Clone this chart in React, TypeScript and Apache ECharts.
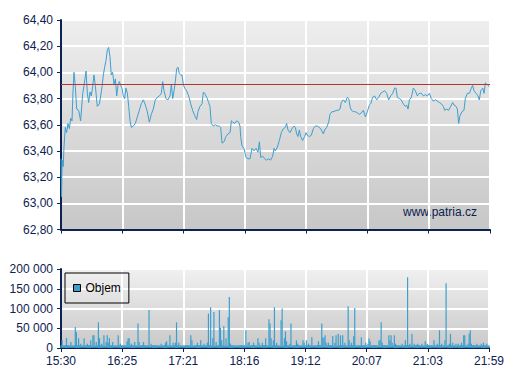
import React, { useEffect, useRef } from "react";
import * as echarts from "echarts";

// Minutes after 15:30 and price
const pricePoints: [number, number][] = [
  [0, 63.34], [0.5, 63.05], [1, 63.33], [2, 63.28], [2.7, 63.43], [3.9, 63.58], [5.1, 63.54], [6.3, 63.61], [7.6, 63.57], [8.8, 63.65],
  [10.0, 63.63], [10.9, 63.86], [11.8, 64.0], [13.0, 63.89], [14.2, 63.72], [16.0, 63.71], [17.8, 63.63], [19.7, 63.84], [20.9, 63.9], [22.7, 64.01],
  [23.9, 63.84], [25.1, 63.77], [26.3, 63.85], [27.5, 63.82], [28.7, 63.89], [29.9, 63.98], [31.1, 63.9], [32.9, 63.74], [34.8, 63.76], [36.0, 63.82],
  [37.2, 63.89], [38.4, 63.98], [39.6, 64.04], [40.8, 64.09], [42.0, 64.17], [43.2, 64.19], [44.4, 64.12], [45.6, 63.98], [46.8, 64.0], [48.1, 63.91],
  [49.3, 63.95], [50.5, 63.82], [51.7, 63.9], [52.9, 63.93], [54.1, 63.9], [55.3, 63.88], [56.5, 63.82], [57.7, 63.8], [58.9, 63.88], [60.2, 63.84],
  [61.4, 63.74], [62.6, 63.63], [63.8, 63.58], [65.6, 63.59], [67.4, 63.61], [69.2, 63.66], [71.0, 63.71], [72.8, 63.76], [74.7, 63.79], [76.5, 63.75],
  [78.3, 63.7], [80.1, 63.62], [81.9, 63.68], [83.7, 63.72], [85.5, 63.79], [87.4, 63.81], [89.2, 63.82], [91.0, 63.84], [92.2, 63.93], [93.4, 63.86],
  [95.2, 63.8], [97.0, 63.79], [98.8, 63.82], [100.1, 63.91], [101.3, 63.8], [102.5, 63.86], [103.7, 63.93], [104.9, 64.03], [106.1, 64.04], [107.3, 63.99],
  [108.5, 63.98], [109.7, 63.98], [110.9, 63.91], [112.1, 63.88], [113.9, 63.86], [115.8, 63.82], [117.6, 63.76], [119.4, 63.71], [121.2, 63.67], [123.0, 63.64],
  [124.2, 63.7], [126.0, 63.74], [127.9, 63.76], [129.1, 63.85], [130.3, 63.84], [132.1, 63.81], [133.9, 63.77], [135.1, 63.74], [136.3, 63.61], [138.1, 63.59],
  [140.0, 63.6], [141.8, 63.59], [143.6, 63.59], [144.8, 63.58], [146.0, 63.46], [147.8, 63.47], [149.6, 63.51], [151.4, 63.53], [153.3, 63.54], [154.5, 63.63],
  [155.7, 63.62], [157.5, 63.61], [159.3, 63.63], [161.1, 63.62], [162.3, 63.59], [162.9, 63.51], [164.1, 63.44], [165.9, 63.42], [167.8, 63.35], [169.6, 63.34],
  [171.4, 63.34], [173.2, 63.42], [175.0, 63.4], [176.8, 63.42], [178.6, 63.39], [179.9, 63.47], [181.1, 63.35], [182.9, 63.36], [184.7, 63.34], [186.5, 63.33],
  [188.3, 63.34], [190.1, 63.33], [191.9, 63.36], [193.2, 63.42], [194.4, 63.4], [196.2, 63.43], [198.0, 63.48], [199.8, 63.54], [201.6, 63.57], [203.4, 63.58],
  [204.6, 63.61], [205.8, 63.56], [207.7, 63.54], [209.5, 63.57], [211.3, 63.59], [212.5, 63.58], [213.7, 63.53], [214.9, 63.51], [216.1, 63.56], [217.3, 63.51],
  [219.1, 63.48], [221.0, 63.51], [222.2, 63.54], [223.4, 63.52], [225.2, 63.51], [227.0, 63.52], [228.8, 63.57], [230.6, 63.59], [232.4, 63.59], [234.3, 63.58],
  [236.1, 63.56], [237.9, 63.53], [239.1, 63.56], [240.9, 63.58], [242.7, 63.62], [243.9, 63.68], [245.7, 63.7], [247.6, 63.7], [249.4, 63.71], [251.2, 63.71],
  [253.0, 63.72], [254.2, 63.77], [256.0, 63.79], [257.8, 63.77], [259.6, 63.81], [260.9, 63.8], [262.1, 63.74], [263.3, 63.71], [265.1, 63.7], [266.9, 63.7],
  [268.7, 63.69], [270.5, 63.68], [272.3, 63.69], [274.2, 63.71], [276.0, 63.66], [277.8, 63.7], [279.6, 63.75], [280.8, 63.76], [282.6, 63.81], [284.4, 63.82],
  [286.2, 63.79], [288.1, 63.81], [289.9, 63.84], [291.7, 63.85], [293.5, 63.86], [295.3, 63.84], [297.1, 63.79], [298.9, 63.82], [300.8, 63.84], [302.6, 63.88],
  [303.8, 63.88], [305.0, 63.81], [306.8, 63.8], [308.6, 63.79], [310.4, 63.76], [312.2, 63.74], [313.5, 63.75], [314.7, 63.72], [315.9, 63.79], [317.7, 63.81],
  [319.5, 63.88], [321.3, 63.86], [323.1, 63.82], [324.9, 63.84], [326.8, 63.84], [328.6, 63.82], [330.4, 63.83], [332.2, 63.82], [334.0, 63.84], [335.8, 63.8],
  [337.6, 63.78], [339.5, 63.79], [341.3, 63.78], [343.1, 63.77], [344.9, 63.76], [346.7, 63.74], [347.9, 63.71], [349.7, 63.72], [351.5, 63.71], [353.3, 63.74],
  [355.2, 63.77], [356.4, 63.75], [358.2, 63.74], [359.4, 63.72], [360.6, 63.61], [361.8, 63.67], [363.6, 63.7], [365.4, 63.71], [366.6, 63.8], [368.5, 63.84],
  [370.3, 63.84], [372.1, 63.88], [373.3, 63.9], [374.5, 63.86], [376.3, 63.84], [378.1, 63.82], [379.3, 63.79], [380.6, 63.86], [382.4, 63.88], [383.6, 63.84],
  [384.8, 63.92], [386.0, 63.91], [387.2, 63.9], [388.4, 63.89], [389, 63.89],
];

// Volume per minute from 15:30 (index = minute)
const volumeValues: number[] = [
  7000, 19500, 7000, 7000, 7000, 25400, 7000, 7000, 7000, 15000,
  7000, 7000, 7000, 53000, 40000, 7000, 25000, 7000, 11000, 7000,
  7000, 25000, 7000, 7000, 11000, 7000, 7000, 19500, 7000, 32000,
  32000, 7000, 15000, 7000, 65000, 25000, 7000, 11000, 7000, 32000,
  7000, 15000, 32000, 13500, 25000, 7000, 7000, 15000, 7000, 7000,
  7000, 7000, 32000, 7000, 11000, 7000, 7000, 7000, 7000, 7000,
  17000, 25000, 25000, 7000, 11000, 7000, 7000, 15000, 7000, 7000,
  62000, 15000, 7000, 7000, 7000, 15000, 7000, 7000, 7000, 7000,
  96000, 7000, 11000, 7000, 7000, 7000, 7000, 7000, 7000, 7000,
  7000, 11000, 7000, 7000, 7000, 13500, 17000, 7000, 7000, 32000,
  7000, 7000, 13500, 7000, 13500, 65000, 7000, 13500, 7000, 7000,
  7000, 7000, 7000, 7000, 7000, 7000, 7000, 7000, 32000, 19500,
  7000, 7000, 7000, 7000, 13500, 7000, 7000, 19500, 7000, 7000,
  11000, 7000, 7000, 13500, 87000, 7000, 103000, 7000, 25000, 91000,
  7000, 15000, 7000, 7000, 96000, 51000, 19500, 7000, 56000, 7000,
  25000, 7000, 78000, 129000, 11000, 7000, 7000, 7000, 7000, 7000,
  7000, 7000, 7000, 7000, 7000, 7000, 7000, 7000, 45000, 7000,
  13500, 15000, 7000, 7000, 7000, 13500, 7000, 7000, 7000, 25000,
  13500, 7000, 7000, 13500, 7000, 7000, 25000, 7000, 7000, 73000,
  62000, 25000, 7000, 19500, 103000, 7000, 13500, 7000, 7000, 7000,
  70000, 100000, 7000, 25000, 42000, 17000, 7000, 7000, 11000, 62000,
  7000, 7000, 7000, 7000, 19500, 11000, 7000, 7000, 7000, 7000,
  19500, 13500, 7000, 19500, 7000, 11000, 7000, 7000, 27000, 7000,
  7000, 7000, 7000, 7000, 17000, 7000, 7000, 62000, 27000, 25000,
  32000, 13500, 7000, 13500, 7000, 7000, 7000, 30500, 7000, 13500,
  32000, 7000, 36000, 7000, 32000, 7000, 32000, 7000, 13500, 7000,
  7000, 106000, 19500, 7000, 13500, 7000, 30000, 101000, 7000, 7000,
  7000, 7000, 7000, 27000, 7000, 7000, 7000, 13500, 7000, 11000,
  24000, 17000, 7000, 7000, 7000, 7000, 7000, 7000, 7000, 19500,
  19500, 65000, 13500, 7000, 7000, 7000, 7000, 7000, 32000, 19500,
  32000, 13500, 7000, 32000, 11000, 7000, 7000, 7000, 7000, 7000,
  11000, 7000, 7000, 19500, 7000, 179000, 7000, 11000, 7000, 36000,
  7000, 11000, 7000, 7000, 11000, 7000, 7000, 7000, 11000, 7000,
  7000, 17000, 7000, 11000, 7000, 7000, 7000, 7000, 7000, 19500,
  7000, 7000, 11000, 7000, 45000, 7000, 11000, 7000, 7000, 19500,
  164000, 7000, 7000, 11000, 36000, 7000, 13500, 7000, 7000, 11000,
  7000, 11000, 7000, 7000, 13500, 7000, 32000, 32000, 7000, 7000,
  11000, 36000, 45000, 11000, 7000, 7000, 7000, 7000, 11000, 7000,
  7000, 7000, 11000, 7000, 13500, 7000, 7000, 11000, 7000, 7000,
];

const previousClose = 63.915;
const sessionStart = "15:30";
const sessionMinutes = 389; // 15:30 .. 21:59
const xDivisions = 7;
const priceTicks = { min: 62.8, max: 64.4, step: 0.2 };
const volumeTicks = { min: 0, max: 200000, step: 50000 };
const volumeName = "Objem";
const watermark = "www.patria.cz";

const FONT = '"Liberation Sans", Arial, Helvetica, sans-serif';
const NAVY = "#0c2250";
const BLUE = "#3d9fcf";

const toUnit = (m: number) => (m * xDivisions) / sessionMinutes;
const fmtTime = (u: number) => {
  const [h0, m0] = sessionStart.split(":").map(Number);
  const mins = Math.floor((u * sessionMinutes) / xDivisions + 1e-6);
  const t = h0 * 60 + m0 + mins;
  const h = Math.floor(t / 60);
  const m = t % 60;
  return `${h}:${m < 10 ? "0" + m : m}`;
};
const fmtVol = (v: number) => String(v).replace(/\B(?=(\d{3})+(?!\d))/g, " ");

export default function App() {
  const ref = useRef<HTMLDivElement>(null);
  useEffect(() => {
    if (!ref.current) return;
    const chart = echarts.init(ref.current, undefined, { renderer: "svg" });
    const bgPrice = new echarts.graphic.LinearGradient(0, 0, 0, 1, [
      { offset: 0, color: "#eeeeee" },
      { offset: 1, color: "#c7c7c7" },
    ]);
    const bgVol = new echarts.graphic.LinearGradient(0, 0, 0, 1, [
      { offset: 0, color: "#f0f0f0" },
      { offset: 1, color: "#c9c9c9" },
    ]);
    const axisLine = { show: true, lineStyle: { color: NAVY, width: 2 } };
    const axisTick = { show: true, length: 4, lineStyle: { color: NAVY, width: 1 } };
    const split = { show: true, lineStyle: { color: "#ffffff", width: 2 } };
    const labelStyle = { color: NAVY, fontFamily: FONT, fontSize: 12 };

    chart.setOption({
      animation: false,
      backgroundColor: "#ffffff",
      grid: [
        { left: 61, top: 20, width: 429, height: 209.5, show: true, backgroundColor: bgPrice, borderWidth: 0 },
        { left: 61, top: 269, width: 429, height: 79, show: true, backgroundColor: bgVol, borderWidth: 0 },
      ],
      legend: {
        data: [volumeName],
        left: 65,
        top: 273,
        orient: "horizontal",
        borderColor: "#000",
        borderWidth: 1,
        padding: [9, 8, 9, 8],
        itemWidth: 7,
        itemHeight: 7,
        itemGap: 4,
        icon: "rect",
        itemStyle: { color: BLUE, borderColor: "#000", borderWidth: 1 },
        textStyle: { color: "#000", fontFamily: FONT, fontSize: 12, padding: [0, 0, 0, 0] },
      },
      xAxis: [
        {
          type: "value", gridIndex: 0, min: 0, max: xDivisions, interval: 1,
          axisLine, axisTick, splitLine: split, axisLabel: { show: false },
        },
        {
          type: "value", gridIndex: 1, min: 0, max: xDivisions, interval: 1,
          axisLine, axisTick, splitLine: split,
          axisLabel: { ...labelStyle, margin: 7, formatter: (v: number) => fmtTime(v) },
        },
      ],
      yAxis: [
        {
          type: "value", gridIndex: 0, min: priceTicks.min, max: priceTicks.max, interval: priceTicks.step,
          axisLine, axisTick, splitLine: split,
          axisLabel: { ...labelStyle, margin: 8, formatter: (v: number) => v.toFixed(2).replace(".", ",") },
        },
        {
          type: "value", gridIndex: 1, min: volumeTicks.min, max: volumeTicks.max, interval: volumeTicks.step,
          axisLine, axisTick, splitLine: split,
          axisLabel: { ...labelStyle, margin: 8, formatter: (v: number) => fmtVol(v) },
        },
      ],
      series: [
        {
          type: "line",
          name: "Cena",
          xAxisIndex: 0,
          yAxisIndex: 0,
          showSymbol: false,
          symbol: "none",
          lineStyle: { color: BLUE, width: 1 },
          data: pricePoints.map(([m, p]) => [toUnit(m), p]),
          markLine: {
            silent: true,
            symbol: "none",
            label: { show: false },
            lineStyle: { color: "#b83232", width: 1, type: "solid" },
            data: [{ yAxis: previousClose }],
          },
          z: 3,
        },
        {
          type: "bar",
          name: volumeName,
          xAxisIndex: 1,
          yAxisIndex: 1,
          barWidth: 1.2,
          itemStyle: { color: BLUE, borderWidth: 0 },
          data: volumeValues.map((v, i) => [toUnit(i), v]),
        },
      ],
      graphic: [
        {
          type: "text",
          left: 403,
          top: 206,
          style: { text: watermark, fill: NAVY, font: `12px ${FONT}` },
        },
      ],
    });
    return () => chart.dispose();
  }, []);
  return (
    <div
      ref={ref}
      style={{ position: "fixed", left: 0, top: 0, width: 507, height: 380, background: "#fff" }}
    />
  );
}
